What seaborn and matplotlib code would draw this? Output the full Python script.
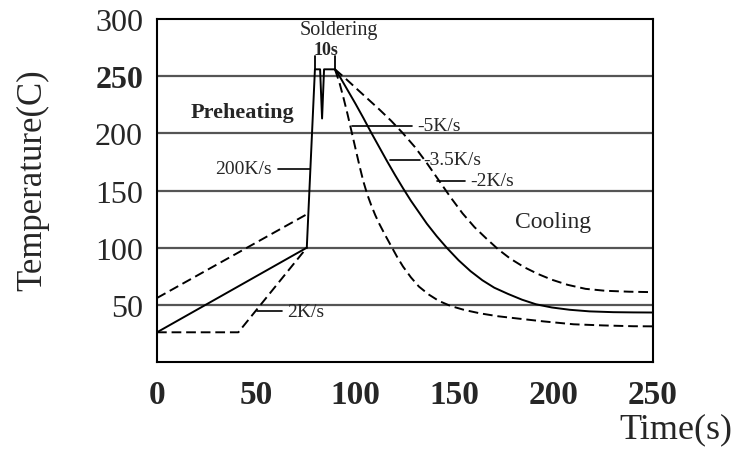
import numpy as np
import pandas as pd
import matplotlib
matplotlib.use("Agg")
import matplotlib.pyplot as plt
import seaborn as sns

# Heating part
ramp_t = [75.5, 79.6, 82.2, 83.2, 84.2, 89.7]
ramp_T = [100, 256, 256, 213, 256, 256]

pre_solid_t = [0, 75.5]
pre_solid_T = [26, 100]
pre_upper_t = [0, 76.3]
pre_upper_T = [56, 130]
pre_lower_t = [0, 41, 75.5]
pre_lower_T = [26, 26, 100]

# Cooling curves, -5K/s (dashed), -3.5K/s (solid), -2K/s (dashed)
fast_t = [89.7, 92, 94, 96, 98, 100, 102, 104, 106, 108, 110, 112, 115, 118,
          121, 124, 128, 132, 137, 142, 148, 155, 163, 172, 182, 195, 210,
          225, 240, 250]
fast_T = [256, 244, 231, 217, 202, 187, 172, 158, 146.5, 137, 128.5, 121, 111,
          101.5, 92, 83.5, 74, 66, 59, 53.5, 49, 45.5, 42.5, 40, 38, 35.5,
          33, 32, 31.3, 31.2]
mid_t = [89.7, 92, 96, 100, 104, 108, 112, 116, 120, 124, 128, 132, 136, 141,
         146, 152, 158, 164, 170, 177, 184, 191, 199, 208, 218, 230, 240, 250]
mid_T = [256, 250, 238, 226, 213.5, 200.5, 188, 175.5, 163.5, 152, 141, 131,
         121, 110, 100, 89, 79.5, 71.5, 65, 59.5, 54.5, 50.5, 47.7, 45.7,
         44.3, 43.6, 43.4, 43.3]
slow_t = [89.7, 95, 100, 106, 112, 118, 124, 130, 136, 142, 148, 154, 160,
          166, 172, 178, 185, 192, 199, 207, 216, 226, 238, 250]
slow_T = [256, 248, 240, 230.5, 221, 211, 200, 188, 174, 159, 144, 130, 118,
          108, 98.5, 90.5, 83, 77, 72, 67.5, 64, 62.3, 61.5, 61.1]

xticks = [0, 50, 100, 150, 200, 250]
yticks = [50, 100, 150, 200, 250, 300]

sns.set_style("white")
plt.rcParams["font.family"] = ["Liberation Serif", "DejaVu Serif"]

fig = plt.figure(figsize=(7.43, 4.56), dpi=100)
ax = fig.add_axes([0.2113, 0.2039, 0.6676, 0.7522])

for y in [50, 100, 150, 200, 250]:
    ax.axhline(y, color="#555555", lw=1.6, zorder=1)

solid = dict(color="black", lw=1.4, sort=False, estimator=None, zorder=3)

sns.lineplot(x=ramp_t, y=ramp_T, ax=ax, **solid)
sns.lineplot(x=pre_solid_t, y=pre_solid_T, ax=ax, **solid)
sns.lineplot(x=mid_t, y=mid_T, ax=ax, **solid)
for tt, TT in [(pre_upper_t, pre_upper_T), (pre_lower_t, pre_lower_T),
               (fast_t, fast_T), (slow_t, slow_T)]:
    ax.plot(tt, TT, color="black", lw=1.4, ls=(0, (5, 2.5)), zorder=3)

# 10s bracket
for xb in [79.6, 89.7]:
    ax.plot([xb, xb], [256, 268], color="black", lw=1.3)

# leader lines and labels
leaders = [((61, 77.1), 169.2), ((98.3, 128.5), 206.7), ((117.4, 132.6), 177),
           ((141.1, 155.2), 158.7), ((50.4, 63), 44.5)]
for (x0, x1), y in leaders:
    ax.plot([x0, x1], [y, y], color="black", lw=1.2, zorder=4)

lab = dict(fontsize=14, va="center")
ax.text(58, 169.2, "200K/s", ha="right", **lab)
ax.text(131, 206.7, "-5K/s", ha="left", **lab)
ax.text(134, 177, "-3.5K/s", ha="left", **lab)
ax.text(157.8, 158.7, "-2K/s", ha="left", **lab)
ax.text(65.5, 44.5, "2K/s", ha="left", **lab)
ax.text(91.5, 291, "Soldering", ha="center", va="center", fontsize=14.5)
ax.text(85.2, 273.5, "10s", ha="center", va="center", fontsize=13,
        fontweight="bold")
ax.text(43.3, 219, "Preheating", ha="center", va="center", fontsize=16,
        fontweight="bold")
ax.text(199.6, 123, "Cooling", ha="center", va="center", fontsize=17)

ax.set_xlim(0, 250)
ax.set_ylim(0, 300)
ax.set_xticks(xticks)
ax.set_yticks(yticks)
ax.set_xticklabels([str(v) for v in xticks], fontsize=24, fontweight="bold")
ax.set_yticklabels([str(v) for v in yticks], fontsize=23)
ax.get_yticklabels()[4].set_fontweight("bold")
ax.tick_params(axis="x", length=0, pad=12)
ax.tick_params(axis="y", length=0, pad=10)

ax.set_ylabel("Temperature(C)", fontsize=25)
ax.yaxis.set_label_coords(-0.218, 0.534)
ax.text(1.046, -0.195, "Time(s)", transform=ax.transAxes, fontsize=26,
        ha="center", va="center")

for s in ax.spines.values():
    s.set_color("black")
    s.set_linewidth(1.5)

fig.savefig("out.png", dpi=100)
